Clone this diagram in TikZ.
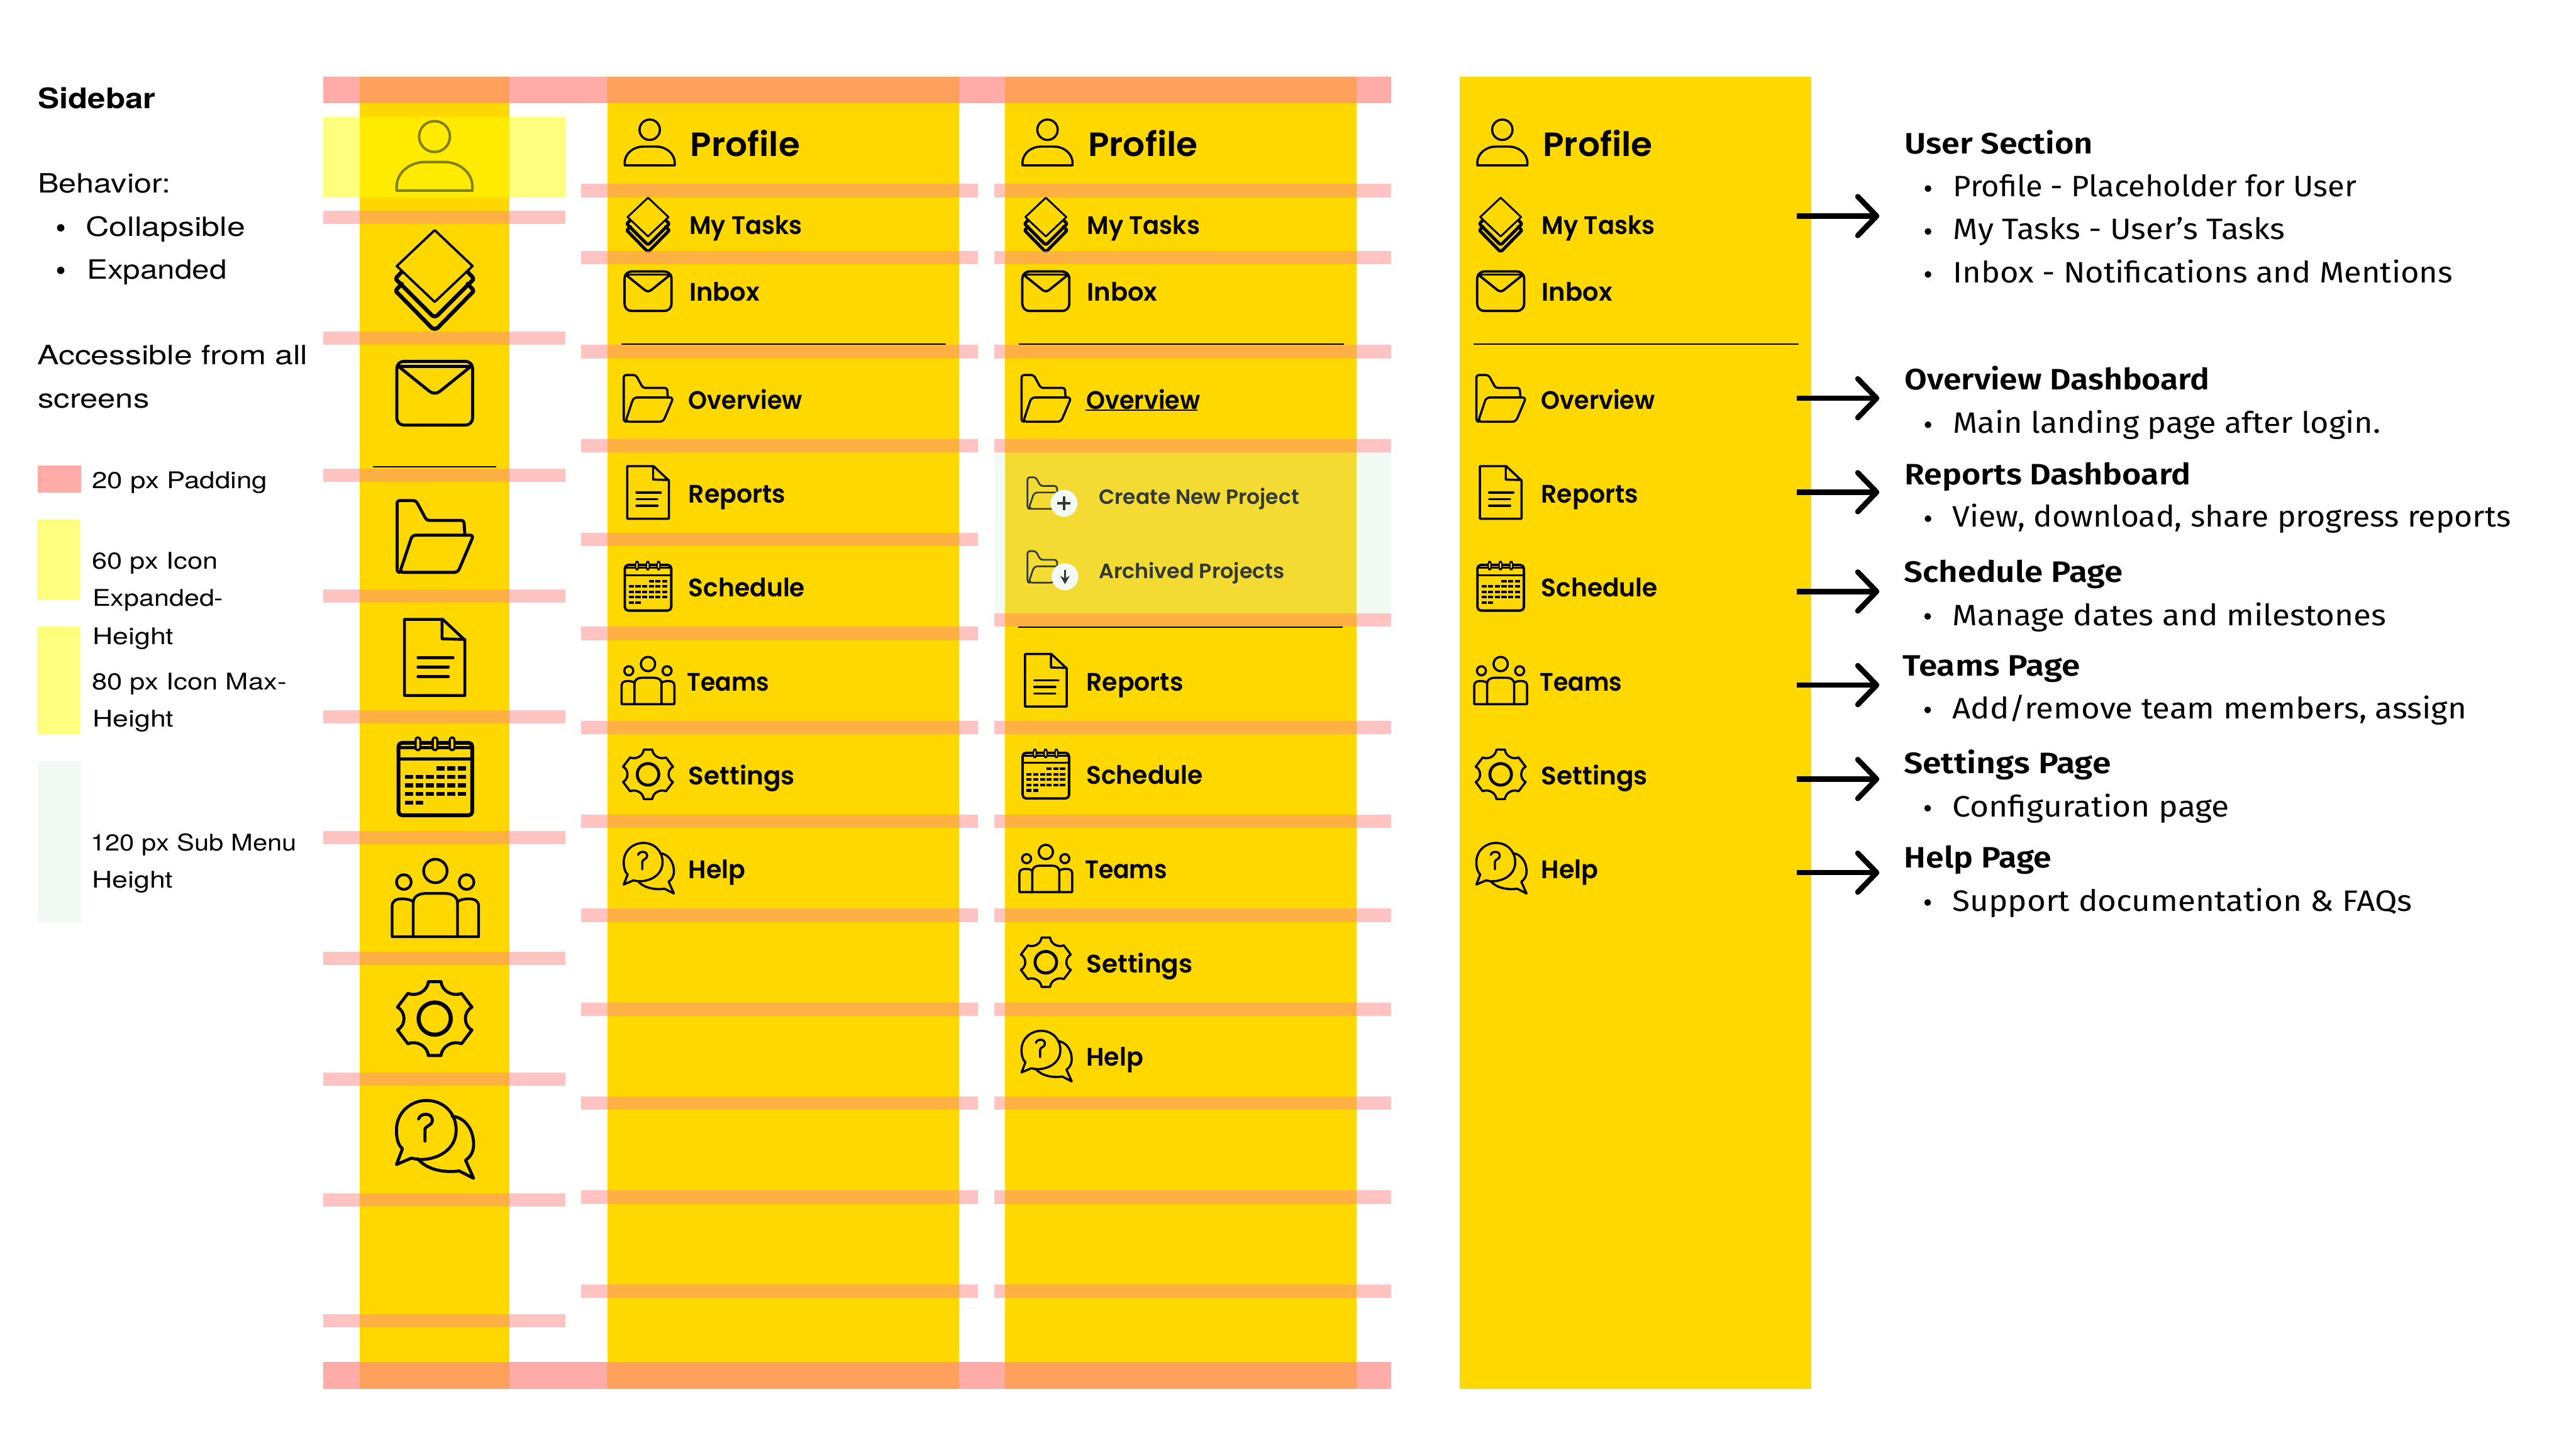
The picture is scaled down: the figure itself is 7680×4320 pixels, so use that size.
\documentclass[tikz,border=0pt]{standalone}
\usepackage{fontspec}
\usepackage{graphicx}
\usetikzlibrary{arrows.meta}
\setmainfont{TeX Gyre Heros}
\newfontfamily\navfam{Poppins SemiBold}
\newfontfamily\headfam{Fira Sans SemiBold}
\newfontfamily\bodyfam{Fira Sans}
\newfontfamily\leftfam{TeX Gyre Heros}
\newcommand\fsz[1]{\fontsize{#1pt}{#1pt}\selectfont}
\newsavebox\fitbox
\newcommand\fittext[2]{\sbox\fitbox{#2}\pgfmathsetmacro\fitr{(#1)*0.284528/\the\wd\fitbox}\scalebox{\fitr}[1]{\usebox\fitbox}}
% nav text, left text, right headings, right body
\newcommand\TxN[6]{\node[txt] (#1) at (#2-3,#3+3) {#5\fittext{#4+8}{#6}};}
\newcommand\TxL[6]{\node[txt] (#1) at (#2-4,#3) {#5\fittext{#4+6}{#6}};}
\newcommand\TxH[6]{\node[txt] (#1) at (#2-4,#3) {#5\fittext{#4+6}{#6}};}
\newcommand\TxB[6]{\node[txt] (#1) at (#2-5,#3) {#5\fittext{#4+8}{#6}};}
\definecolor{barY}{HTML}{FFD800}
\definecolor{padC}{HTML}{FF8A85}
\definecolor{subC}{RGB}{206,232,210}
\definecolor{hiC}{RGB}{255,255,0}
\tikzset{
  txt/.style={anchor=base west,inner sep=0pt,outer sep=0pt},
  barfill/.style={fill=barY,draw=none},
  padtop/.style={fill=padC,fill opacity=.7,draw=none},
  padthin/.style={fill=padC,fill opacity=.5,draw=none},
  hilite/.style={fill=hiC,fill opacity=.5,draw=none},
  rule/.style={draw=black,line width=0.9pt},
  ico/.style={draw=black,line join=round,line cap=round,fill=none},
  goarrow/.style={draw=black,line width=4.55pt,-{Straight Barb[length=16pt,width=33pt,round]}},
  bull/.style={fill=black,draw=none}
}
% icons: #1 cx, #2 cy, #3 scale, #4 stroke in px
\newcommand\icoopen[4]{\begin{scope}[shift={(#1,#2)},scale=#3,ico,line width=#4*0.2845pt]}
\newcommand\icoperson[4]{\icoopen{#1}{#2}{#3}{#4}
  \draw (0,-58) circle[radius=46];
  \draw (-113,103) -- (-113,92) .. controls (-113,48) and (-72,18) .. (-30,18) -- (30,18) .. controls (72,18) and (113,48) .. (113,92) -- (113,103) -- cycle;
\end{scope}}
\newcommand\icolayers[4]{\icoopen{#1}{#2}{#3}{#4}
  \draw[line width=#4*0.2845pt*1.7] (98,14) -- (113,30) .. controls (116,34) and (116,38) .. (110,42) -- (8,146) .. controls (3,149) and (-3,149) .. (-8,146) -- (-110,42) .. controls (-116,38) and (-116,34) .. (-113,30) -- (-98,14);
  \draw[line width=#4*0.2845pt*1.7] (98,-22) -- (113,-6) .. controls (116,-2) and (116,2) .. (110,6) -- (8,108) .. controls (3,112) and (-3,112) .. (-8,108) -- (-110,6) .. controls (-116,2) and (-116,-2) .. (-113,-6) -- (-98,-22);
  \draw[fill=barY] (0,-146) -- (113,-39) -- (0,68) -- (-113,-39) -- cycle;
\end{scope}}
\newcommand\icoenvelope[4]{\icoopen{#1}{#2}{#3}{#4}
  \draw[rounded corners=6pt] (-113,-95) rectangle (113,95);
  \draw (-108,-80) -- (108,-80);
  \draw (-108,-80) -- (-16,-6) .. controls (-6,2) and (6,2) .. (16,-6) -- (108,-80);
\end{scope}}
\newcommand\icofolder[4]{\icoopen{#1}{#2}{#3}{#4}
  \draw[rounded corners=2pt] (-105,106) -- (-113,106) -- (-113,-108) -- (-57,-108) -- (-25,-49) -- (86,-49) -- (89,-5);
  \draw[rounded corners=3pt] (-105,106) -- (-68,-5) -- (115,-5) -- (68,106) -- cycle;
\end{scope}}
\newcommand\icodoc[4]{\icoopen{#1}{#2}{#3}{#4}
  \draw (-90,-114) -- (24,-114) -- (90,-52) -- (90,113) -- (-90,113) -- cycle;
  \draw (22,-114) -- (22,-56) -- (90,-54);
  \draw (-50,0) -- (55,0);
  \draw (-50,28) -- (41,28);
  \draw (-50,57) -- (41,57);
\end{scope}}
\newcommand\icocal[4]{\icoopen{#1}{#2}{#3}{#4}
  \draw[line width=#4*0.2845pt*1.2,rounded corners=3pt] (-110,-102) rectangle (110,114);
  \draw (-108,-88) -- (108,-88);
  \draw (-108,-54) -- (108,-54);
  \foreach \rx in {-52,-1,50} {\draw[fill=barY,line width=#4*0.2845pt*.7,rounded corners=2pt] (\rx-7,-118) rectangle (\rx+7,-80);}
  \foreach \rr/\cc in {-26/4,-26/5,-26/6,0/1,0/2,0/3,0/4,0/5,0/6,25/1,25/2,25/3,25/4,25/5,25/6,50/1,50/2,50/3,50/4,50/5,50/6,76/1,76/2}
    {\fill[black] ({-79+(\cc-1)*31.6-12},\rr-6) rectangle ({-79+(\cc-1)*31.6+12},\rr+6);}
\end{scope}}
\newcommand\icoteam[4]{\icoopen{#1}{#2}{#3}{#4}
  \draw (0,-80) circle[radius=35];
  \draw (-94,-47) circle[radius=22];
  \draw (93,-47) circle[radius=22];
  \draw (-66,116) -- (-66,15) .. controls (-66,-3) and (-50,-13) .. (-30,-13) -- (30,-13) .. controls (50,-13) and (66,-3) .. (66,15) -- (66,116);
  \draw (-66,12) .. controls (-72,6) and (-85,3) .. (-100,3) .. controls (-118,3) and (-129,10) .. (-129,25) -- (-129,116) -- (129,116) -- (129,25) .. controls (129,10) and (118,3) .. (100,3) .. controls (85,3) and (72,6) .. (66,12);
\end{scope}}
\newcommand\icogear[4]{\icoopen{#1}{#2}{#3}{#4}
  \draw[line width=#4*0.2845pt*1.35] (0,0) circle[radius=48];
  \draw (-19,-110) -- (19,-110) .. controls (22,-80) and (55,-65) .. (80,-75) -- (111,-34) .. controls (85,-20) and (85,20) .. (111,34) -- (80,75) .. controls (55,65) and (22,80) .. (19,110) -- (-19,110) .. controls (-22,80) and (-55,65) .. (-80,75) -- (-111,34) .. controls (-85,20) and (-85,-20) .. (-111,-34) -- (-80,-75) .. controls (-55,-65) and (-22,-80) .. (-19,-110) -- cycle;
\end{scope}}
\newcommand\icohelp[4]{\icoopen{#1}{#2}{#3}{#4}
  \draw (50,-71) .. controls (85,-68) and (114,-35) .. (114,13) .. controls (114,35) and (105,50) .. (90,60) -- (114,114) -- (71,92) .. controls (30,98) and (-25,90) .. (-52,56);
  \draw (-116,73) -- (-98,26) .. controls (-115,12) and (-116,-15) .. (-116,-30) .. controls (-116,-85) and (-70,-118) .. (-27,-118) .. controls (25,-118) and (62,-80) .. (62,-30) .. controls (62,30) and (5,60) .. (-50,58) -- (-72,54) -- cycle;
  \draw (-50,-63) .. controls (-45,-82) and (-9,-82) .. (-9,-60) .. controls (-9,-40) and (-31,-45) .. (-31,-30) -- (-31,3);
\end{scope}}
% top block of an expanded sidebar: #1 prefix, #2 dx
\newcommand\navtop[2]{
  \icoperson{1937+#2}{425}{.66}{6.5}
  \icolayers{1932+#2}{668}{.54}{5.5}
  \icoenvelope{1932+#2}{868}{.62}{7}
  \TxN{#1pro}{2061+#2}{463}{319}{\navfam\fsz{28.5}}{Profile}
  \TxN{#1tsk}{2058+#2}{695}{329}{\navfam\fsz{21.5}}{My Tasks}
  \TxN{#1inb}{2058+#2}{895}{202}{\navfam\fsz{21.5}}{Inbox}
  \draw[rule] (1852+#2,1025) -- (2820+#2,1025);
  \icofolder{1933+#2}{1188}{.65}{6.5}
  \TxN{#1ove}{2056+#2}{1216}{331}{\navfam\fsz{21.5}}{Overview}
}
% lower block: #1 prefix, #2 dx, #3 dy
\newcommand\navlow[3]{
  \icodoc{1932+#2}{1468+#3}{.69}{6.5}
  \icocal{1932+#2}{1748+#3}{.63}{6}
  \icoteam{1932+#2}{2028+#3}{.61}{6.5}
  \icogear{1932+#2}{2308+#3}{.67}{6.5}
  \icohelp{1935+#2}{2589+#3}{.65}{6.5}
  \TxN{#1rep}{2056+#2}{1496+#3}{281}{\navfam\fsz{21.5}}{Reports}
  \TxN{#1sch}{2056+#2}{1775+#3}{339}{\navfam\fsz{21.5}}{Schedule}
  \TxN{#1tea}{2052+#2}{2056+#3}{237}{\navfam\fsz{21.5}}{Teams}
  \TxN{#1set}{2056+#2}{2336+#3}{309}{\navfam\fsz{21.5}}{Settings}
  \TxN{#1hlp}{2056+#2}{2615+#3}{162}{\navfam\fsz{21.5}}{Help}
}
\begin{document}
\begin{tikzpicture}[x=0.01cm,y=-0.01cm]
\useasboundingbox (0,0) rectangle (7680,4320);
\fill[white] (0,0) rectangle (7680,4320);
% sidebars
\fill[barfill] (1072,228) rectangle (1519,4140);
\fill[barfill] (1812,228) rectangle (2859,4140);
\fill[barfill] (2996,228) rectangle (4044,4140);
\fill[barfill] (4352,228) rectangle (5400,4140);
% collapsed icons
\icoperson{1295.5}{465}{1}{7.5}
\icolayers{1296}{832}{1}{7}
\icoenvelope{1296}{1172}{1}{9}
\draw[rule] (1112,1391) -- (1479,1391);
\icofolder{1297}{1600}{1}{9}
\icodoc{1296}{1960}{1}{8.5}
\icocal{1298}{2316}{1}{9.5}
\icoteam{1298}{2676}{1}{8}
\icogear{1296}{3036}{1}{9}
\icohelp{1298}{3398}{1}{9}
% expanded columns
\navtop{b}{0}
\navlow{b}{0}{0}
\navtop{c}{1186}
\navlow{c}{1186}{560}
\navtop{d}{2542}
\navlow{d}{2542}{0}
\draw[black,line width=0.9pt] (3236,1223) -- (3570,1223);
\draw[rule] (3036,1869) -- (4004,1869);
% sub menu
\icofolder{3113}{1470}{.44}{5}
\fill[white] (3172,1500) circle[radius=40];
\draw[black,line width=2pt] (3172,1480) -- (3172,1520) (3152,1500) -- (3192,1500);
\icofolder{3113}{1690}{.44}{5}
\fill[white] (3175,1719) circle[radius=40];
\draw[black,line width=1.8pt,-{Stealth[length=7pt,width=8pt]}] (3175,1698) -- (3175,1741);
\TxN{csub1}{3279}{1500}{589}{\navfam\fsz{17.5}}{Create New Project}
\TxN{csub2}{3279}{1721}{546}{\navfam\fsz{17.5}}{Archived Projects}
\fill[subC,fill opacity=.243] (2964,1348) rectangle (4148,1828);
% padding bands
\fill[padtop] (964,228) rectangle (4148,307);
\fill[padtop] (964,4060) rectangle (4148,4140);
\foreach \yy in {628,988,1396,1756,2116,2476,2836,3196,3556,3916}
  {\fill[padthin] (964,\yy) rectangle (1685,\yy+40);}
\foreach \yy in {548,748,1028,1308,1588,1868,2148,2428,2708,2988,3268,3548,3828}
  {\fill[padthin] (1732,\yy) rectangle (2916,\yy+40);}
\foreach \yy in {548,748,1028,1308,1828,2148,2428,2708,2988,3268,3548,3828}
  {\fill[padthin] (2964,\yy) rectangle (4148,\yy+40);}
% highlight over the first icon
\fill[hilite] (964,348) rectangle (1685,588);
% legend swatches
\fill[fill=padC,fill opacity=.7] (113,1388) rectangle (241,1468);
\fill[fill=hiC,fill opacity=.5] (110,1548) rectangle (238,1788);
\fill[fill=hiC,fill opacity=.5] (110,1868) rectangle (238,2188);
\fill[subC,fill opacity=.243] (113,2268) rectangle (241,2749);
% left text
\TxL{lside}{117}{324}{345}{\leftfam\bfseries\fsz{24}}{Sidebar}
\TxL{lbeh}{117}{575}{389}{\leftfam\fsz{22.5}}{Behavior:}
\fill[bull] (181,679) circle[radius=11];
\TxL{lcol}{260}{704}{469}{\leftfam\fsz{22.5}}{Collapsible}
\fill[bull] (181,806) circle[radius=11];
\TxL{lexp}{263}{831}{411}{\leftfam\fsz{22.5}}{Expanded}
\TxL{lacc}{115}{1087}{800}{\leftfam\fsz{22.5}}{Accessible from all}
\TxL{lscr}{117}{1215}{326}{\leftfam\fsz{22.5}}{screens}
\TxL{leg1}{278}{1455}{517}{\leftfam\fsz{19.5}}{20 px Padding}
\TxL{leg2}{278}{1695}{369}{\leftfam\fsz{19.5}}{60 px Icon}
\TxL{leg3}{280}{1807}{384}{\leftfam\fsz{19.5}}{Expanded-}
\TxL{leg4}{280}{1920}{236}{\leftfam\fsz{19.5}}{Height}
\TxL{leg5}{278}{2056}{574}{\leftfam\fsz{19.5}}{80 px Icon Max-}
\TxL{leg6}{280}{2167}{236}{\leftfam\fsz{19.5}}{Height}
\TxL{leg7}{275}{2536}{607}{\leftfam\fsz{19.5}}{120 px Sub Menu}
\TxL{leg8}{278}{2647}{236}{\leftfam\fsz{19.5}}{Height}
% arrows
\foreach \nn/\yy in {a/644,b/1187,c/1467,d/1763,e/2042,f/2322,g/2601} {
  \coordinate (\nn s) at (5356,\yy);
  \coordinate (\nn e) at (5603,\yy);
  \draw[goarrow] (\nn s) -- (\nn e);
}
% right text
\TxH{r1h}{5682}{458}{556}{\headfam\fsz{25}}{User Section}
\fill[bull] (5748,562) circle[radius=10];
\TxB{r1a}{5828}{586}{1194}{\bodyfam\fsz{25}}{Profile - Placeholder for User}
\fill[bull] (5748,690) circle[radius=10];
\TxB{r1b}{5828}{713}{980}{\bodyfam\fsz{25}}{My Tasks - User’s Tasks}
\fill[bull] (5748,818) circle[radius=10];
\TxB{r1c}{5828}{842}{1481}{\bodyfam\fsz{25}}{Inbox - Notifications and Mentions}
\TxH{r2h}{5682}{1162}{904}{\headfam\fsz{25}}{Overview Dashboard}
\fill[bull] (5748,1266) circle[radius=10];
\TxB{r2a}{5828}{1291}{1266}{\bodyfam\fsz{25}}{Main landing page after login.}
\TxH{r3h}{5682}{1444}{847}{\headfam\fsz{25}}{Reports Dashboard}
\fill[bull] (5748,1546) circle[radius=10];
\TxB{r3a}{5826}{1571}{1656}{\bodyfam\fsz{25}}{View, download, share progress reports}
\TxH{r4h}{5680}{1736}{647}{\headfam\fsz{25}}{Schedule Page}
\fill[bull] (5747,1837) circle[radius=10];
\TxB{r4a}{5826}{1864}{1285}{\bodyfam\fsz{25}}{Manage dates and milestones}
\TxH{r5h}{5677}{2015}{522}{\headfam\fsz{25}}{Teams Page}
\fill[bull] (5747,2116) circle[radius=10];
\TxB{r5a}{5826}{2143}{1524}{\bodyfam\fsz{25}}{Add/remove team members, assign}
\TxH{r6h}{5680}{2306}{611}{\headfam\fsz{25}}{Settings Page}
\fill[bull] (5747,2409) circle[radius=10];
\TxB{r6a}{5826}{2434}{817}{\bodyfam\fsz{25}}{Configuration page}
\TxH{r7h}{5681}{2587}{433}{\headfam\fsz{25}}{Help Page}
\fill[bull] (5747,2690) circle[radius=10];
\TxB{r7a}{5826}{2715}{1362}{\bodyfam\fsz{25}}{Support documentation \& FAQs}
\end{tikzpicture}
\end{document}
